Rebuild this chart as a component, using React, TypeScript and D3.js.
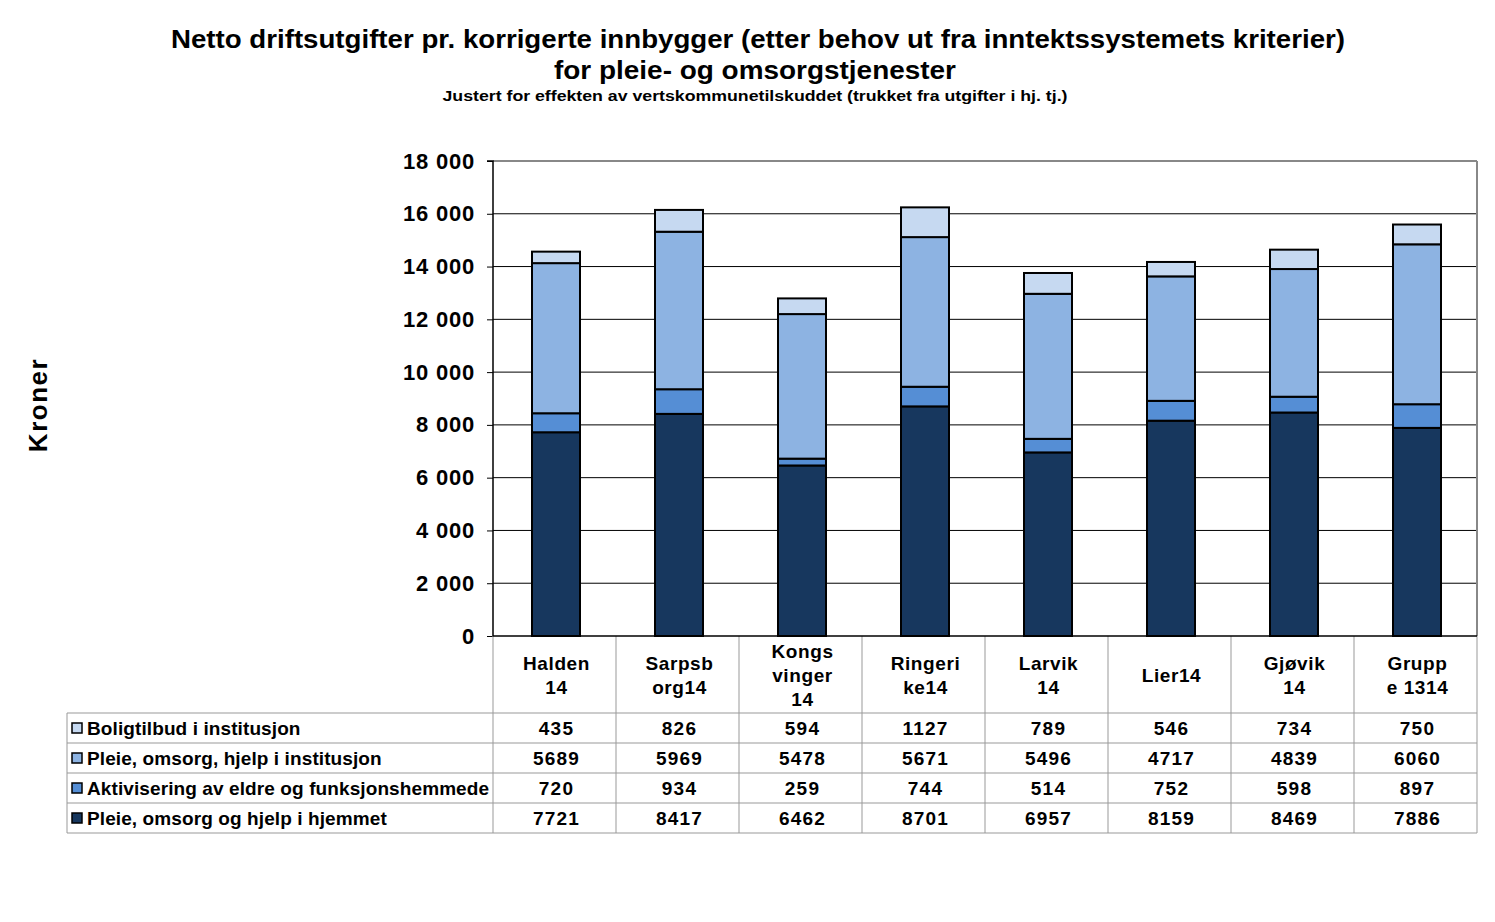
import React, { useEffect, useRef } from 'react'
import * as d3 from 'd3'

const categories = ['Halden 14', 'Sarpsborg14', 'Kongsvinger 14', 'Ringerike14', 'Larvik 14', 'Lier14', 'Gjøvik 14', 'Gruppe 1314']
const categoryLines = [
  ['Halden', '14'],
  ['Sarpsb', 'org14'],
  ['Kongs', 'vinger', '14'],
  ['Ringeri', 'ke14'],
  ['Larvik', '14'],
  ['Lier14'],
  ['Gjøvik', '14'],
  ['Grupp', 'e 1314'],
]
const seriesNames = [
  'Pleie, omsorg og hjelp i hjemmet',
  'Aktivisering av eldre og funksjonshemmede',
  'Pleie, omsorg, hjelp i institusjon',
  'Boligtilbud i institusjon',
]
const hjemmet = [7721, 8417, 6462, 8701, 6957, 8159, 8469, 7886]
const aktivisering = [720, 934, 259, 744, 514, 752, 598, 897]
const institusjon = [5689, 5969, 5478, 5671, 5496, 4717, 4839, 6060]
const bolig = [435, 826, 594, 1127, 789, 546, 734, 750]
const seriesColors = ['#17375e', '#558ed5', '#8db3e2', '#c6d9f1']
const yTicks = [0, 2000, 4000, 6000, 8000, 10000, 12000, 14000, 16000, 18000]

const W = 1495
const H = 922
const font = '"Liberation Sans", Arial, sans-serif'

const App = () => {
  const svgRef = useRef<SVGSVGElement>(null)

  useEffect(() => {
    const svg = d3.select(svgRef.current)
    svg.selectAll('*').remove()

    const plot = { left: 493, right: 1477, top: 161, bottom: 636 }
    const tableLeft = 67
    const rowH = 30
    const headerBottom = 713
    const series = [hjemmet, aktivisering, institusjon, bolig]

    const x = d3.scaleBand<string>().domain(categories).range([plot.left, plot.right]).paddingInner(0).paddingOuter(0)
    const y = d3.scaleLinear().domain([0, 18000]).range([plot.bottom, plot.top])

    const rows = categories.map((c, i) => {
      const r: any = { cat: c }
      series.forEach((s, k) => (r['s' + k] = s[i]))
      return r
    })
    const stack = d3.stack<any>().keys(series.map((_, k) => 's' + k))(rows)

    // Titles
    const t = svg.append('g').style('font-family', font).style('font-weight', 'bold').attr('text-anchor', 'middle')
    t.append('text').attr('x', 758).attr('y', 48).style('font-size', '25px')
      .attr('textLength', 1174).attr('lengthAdjust', 'spacingAndGlyphs')
      .text('Netto driftsutgifter pr. korrigerte innbygger (etter behov ut fra inntektssystemets kriterier)')
    t.append('text').attr('x', 755).attr('y', 79).style('font-size', '25px')
      .attr('textLength', 402).attr('lengthAdjust', 'spacingAndGlyphs')
      .text('for pleie- og omsorgstjenester')
    t.append('text').attr('x', 755).attr('y', 101).style('font-size', '14px')
      .attr('textLength', 625).attr('lengthAdjust', 'spacingAndGlyphs')
      .text('Justert for effekten av vertskommunetilskuddet (trukket fra utgifter i hj. tj.)')

    // Axis title
    svg.append('text')
      .attr('transform', 'translate(47,405) rotate(-90)')
      .attr('text-anchor', 'middle')
      .style('font-family', font).style('font-weight', 'bold').style('font-size', '26px').style('letter-spacing', '1.5px')
      .text('Kroner')

    // Grid
    svg.append('g').selectAll('line').data(yTicks.filter((d) => d > 0 && d < 18000)).join('line')
      .attr('x1', plot.left).attr('x2', plot.right)
      .attr('y1', (d) => y(d)).attr('y2', (d) => y(d))
      .attr('stroke', '#000').attr('stroke-width', 1)
    svg.append('line').attr('x1', plot.left).attr('x2', plot.right).attr('y1', plot.top).attr('y2', plot.top)
      .attr('stroke', '#888').attr('stroke-width', 2)
    svg.append('line').attr('x1', plot.right).attr('x2', plot.right).attr('y1', plot.top).attr('y2', plot.bottom)
      .attr('stroke', '#888').attr('stroke-width', 2)

    // Bars
    const bw = 48
    stack.forEach((layer, k) => {
      svg.append('g').selectAll('rect').data(layer).join('rect')
        .attr('x', (d: any) => (x(d.data.cat) as number) + x.bandwidth() / 2 - bw / 2 + 1.5)
        .attr('width', bw)
        .attr('y', (d: any) => y(d[1]))
        .attr('height', (d: any) => y(d[0]) - y(d[1]))
        .attr('fill', seriesColors[k])
        .attr('stroke', '#000')
        .attr('stroke-width', 2)
    })

    // Y axis
    const axis = svg.append('g').attr('transform', `translate(${plot.left},0)`)
      .call(d3.axisLeft(y).tickValues(yTicks).tickSize(6).tickPadding(12)
        .tickFormat((d) => d3.format(',')(d as number).replace(/,/g, ' ')))
    axis.select('path.domain').attr('stroke', '#000').attr('stroke-width', 1.5).attr('d', `M-6,${plot.top}H0V${plot.bottom}`)
    axis.selectAll('.tick line').attr('stroke', '#000')
    axis.selectAll('.tick text').style('font-family', font).style('font-weight', 'bold').style('font-size', '22px')
      .style('letter-spacing', '0.8px').attr('fill', '#000')

    // Table
    const tableBottom = headerBottom + rowH * 4
    const grid = svg.append('g').attr('stroke', '#999').attr('stroke-width', 1)
    const boundaries = [plot.left, ...categories.map((c) => (x(c) as number) + x.bandwidth())]
    grid.selectAll('line.v').data(boundaries).join('line')
      .attr('x1', (d) => d).attr('x2', (d) => d).attr('y1', plot.bottom).attr('y2', tableBottom)
    grid.append('line').attr('x1', tableLeft).attr('x2', tableLeft).attr('y1', headerBottom).attr('y2', tableBottom)
    grid.selectAll('line.h').data(d3.range(5)).join('line')
      .attr('x1', tableLeft).attr('x2', plot.right)
      .attr('y1', (i) => headerBottom + i * rowH).attr('y2', (i) => headerBottom + i * rowH)
    svg.append('line').attr('x1', plot.left).attr('x2', plot.right).attr('y1', plot.bottom).attr('y2', plot.bottom)
      .attr('stroke', '#000').attr('stroke-width', 1.5)

    // Category headers
    const hdr = svg.append('g').style('font-family', font).style('font-weight', 'bold').style('font-size', '19px')
      .style('letter-spacing', '0.6px').attr('text-anchor', 'middle')
    categories.forEach((c, i) => {
      const lines = categoryLines[i]
      const cx = (x(c) as number) + x.bandwidth() / 2 + 2
      const mid = (plot.bottom + headerBottom) / 2
      lines.forEach((ln, j) => {
        hdr.append('text').attr('x', cx).attr('y', mid + (j - (lines.length - 1) / 2) * 24 + 7).text(ln)
      })
    })

    // Rows (top row is the last series)
    const body = svg.append('g').style('font-family', font).style('font-weight', 'bold').style('font-size', '19px')
    const order = [3, 2, 1, 0]
    order.forEach((k, r) => {
      const cy = headerBottom + r * rowH + rowH / 2
      body.append('rect').attr('x', 72).attr('y', cy - 5).attr('width', 10).attr('height', 10)
        .attr('fill', seriesColors[k]).attr('stroke', '#000').attr('stroke-width', 1.5)
      body.append('text').attr('x', 87).attr('y', cy + 7).style('letter-spacing', '0.1px').text(seriesNames[k])
      categories.forEach((c, i) => {
        body.append('text').attr('x', (x(c) as number) + x.bandwidth() / 2 + 2).attr('y', cy + 7)
          .attr('text-anchor', 'middle').style('letter-spacing', '1.2px').text(series[k][i])
      })
    })
  }, [])

  return <svg ref={svgRef} width={W} height={H} viewBox={`0 0 ${W} ${H}`} style={{ display: 'block', position: 'absolute', left: 0, top: 0, background: '#fff' }}></svg>
}

export default App
